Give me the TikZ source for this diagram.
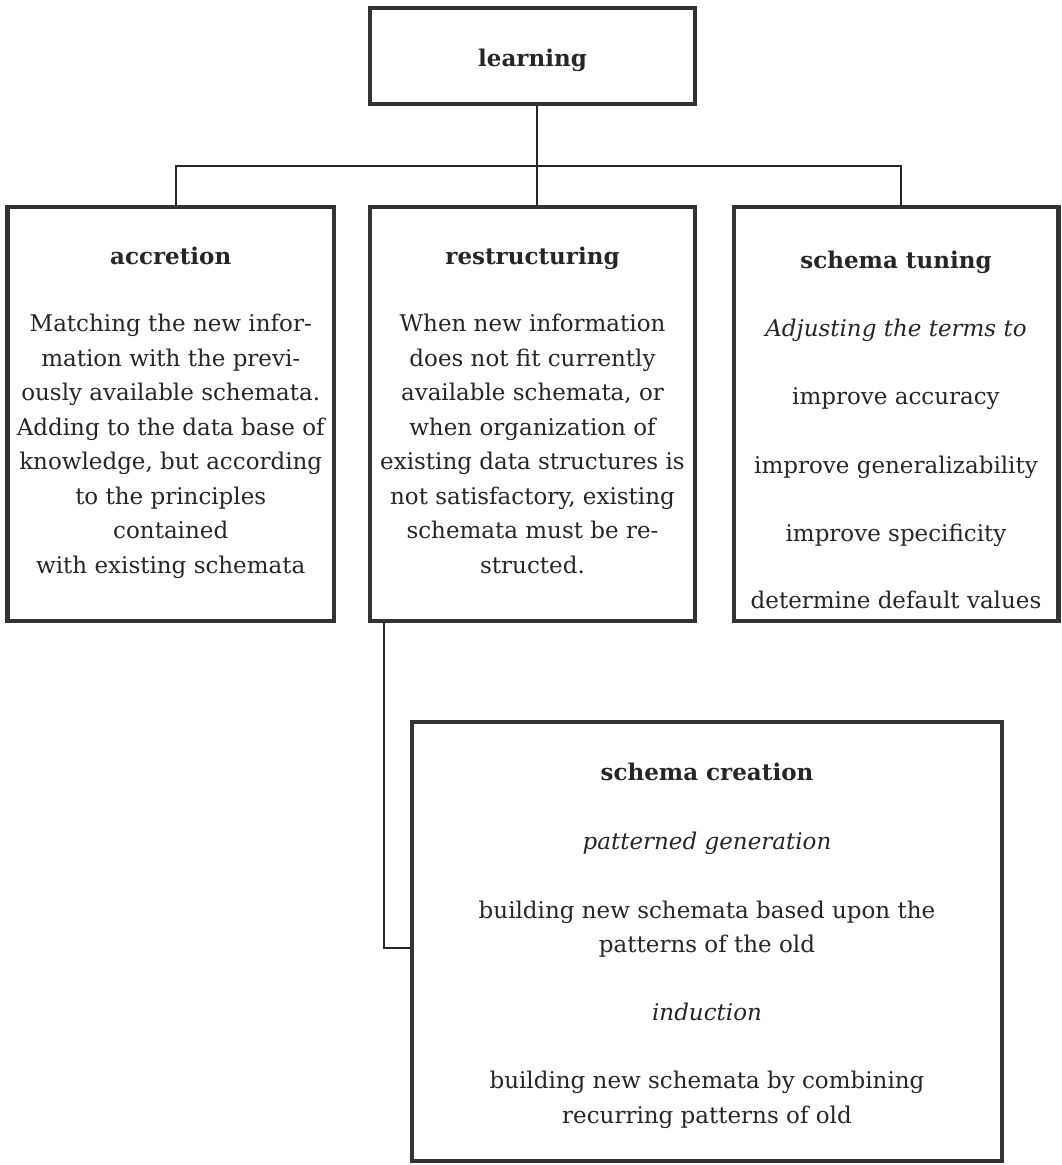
\documentclass[tikz,border=0pt]{standalone}
\usepackage{fontspec}
\setmainfont{DejaVu Serif}
\begin{document}
\begin{tikzpicture}[x=1pt,y=-1pt,
  box/.style={draw=black!80, line width=4.5pt, inner sep=0pt},
  conn/.style={draw=black!85, line width=2pt},
  txt/.style={align=center, inner sep=0pt, text=black!85, font=\fontsize{23}{34.5}\selectfont}]
\useasboundingbox (0,0) rectangle (1062,1165);
% boxes
\node[box, minimum width=325pt, minimum height=96pt] (learn) at (532.5,56) {};
\node[box, minimum width=326.5pt, minimum height=414pt] (acc) at (170.75,414) {};
\node[box, minimum width=325pt, minimum height=414pt] (restr) at (532.5,414) {};
\node[box, minimum width=324.5pt, minimum height=414pt] (tune) at (896,414) {};
\node[box, minimum width=590pt, minimum height=439pt] (create) at (707,941.5) {};
% texts (anchor base = baseline of last line)
\node[txt, anchor=base] (learntext) at (532.5,66) {\textbf{learning}};
\node[txt, anchor=base] (acctext) at (170.75,573) {\textbf{accretion}\\[33pt]
  Matching the new infor-\\ mation with the previ-\\ ously available schemata.\\
  Adding to the data base of\\ knowledge, but according\\ to the principles\\
  contained\\ with existing schemata};
\node[txt, anchor=base] (restrtext) at (532.5,573) {\textbf{restructuring}\\[33pt]
  When new information\\ does not fit currently\\ available schemata, or\\
  when organization of\\ existing data structures is\\ not satisfactory, existing\\
  schemata must be re-\\ structed.};
\node[txt, anchor=base] (tunetext) at (896,608) {\textbf{schema tuning}\\[33pt]
  \textit{Adjusting the terms to}\\[34pt] improve accuracy\\[34pt]
  improve generalizability\\[34pt] improve specificity\\[32pt] determine default values};
\node[txt, anchor=base] (createtext) at (707,1123) {\textbf{schema creation}\\[35pt]
  \textit{patterned generation}\\[34pt] building new schemata based upon the\\
  patterns of the old\\[33pt] \textit{induction}\\[34pt]
  building new schemata by combining\\ recurring patterns of old};
% connectors
\coordinate (bar) at (537,166);
\draw[conn] ([xshift=4.5pt]learn.south) -- ([xshift=4.5pt]restr.north);
\draw[conn] ([xshift=5.25pt]acc.north) |- (bar) -| ([xshift=5pt]tune.north);
\draw[conn] ([xshift=16.5pt]restr.south west) |- ([yshift=-6.5pt]create.west);
\end{tikzpicture}
\end{document}
